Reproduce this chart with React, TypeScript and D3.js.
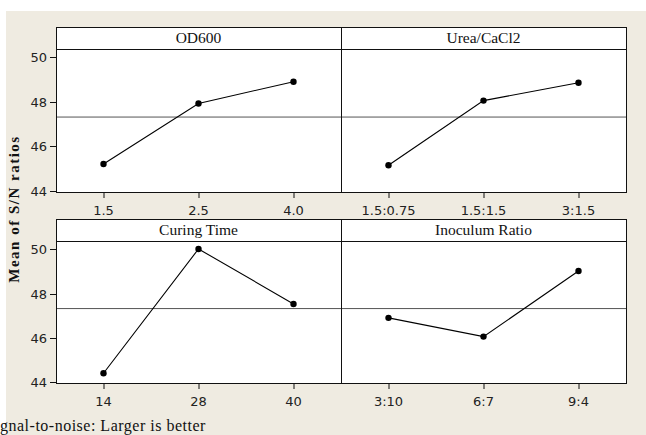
import React from "react";
import * as d3 from "d3";

// Main effects plot for S/N ratios (larger is better)
const factors = ["OD600", "Urea/CaCl2", "Curing Time", "Inoculum Ratio"];
const levelsOD600 = ["1.5", "2.5", "4.0"];
const levelsUrea = ["1.5:0.75", "1.5:1.5", "3:1.5"];
const levelsCuring = ["14", "28", "40"];
const levelsInoculum = ["3:10", "6:7", "9:4"];
const snOD600 = [45.21, 47.93, 48.91];
const snUrea = [45.15, 48.06, 48.86];
const snCuring = [44.39, 50.02, 47.53];
const snInoculum = [46.9, 46.05, 49.02];
const grandMean = 47.32;
const yTicks = [44, 46, 48, 50];

const W = 646;
const H = 435;

const panels = [
  { name: factors[0], levels: levelsOD600, values: snOD600, col: 0, row: 0 },
  { name: factors[1], levels: levelsUrea, values: snUrea, col: 1, row: 0 },
  { name: factors[2], levels: levelsCuring, values: snCuring, col: 0, row: 1 },
  { name: factors[3], levels: levelsInoculum, values: snInoculum, col: 1, row: 1 },
];

const colX = [56, 341];
const colW = 285;
const rowTop = [27, 219];
const headerH = 22;
const rowBottom = [192, 383];

const tickFont = "'DejaVu Sans', Verdana, sans-serif";
const serif = "'Liberation Serif', 'Times New Roman', serif";

export default function App() {
  return (
    <svg
      width={W}
      height={H}
      style={{ position: "absolute", left: 0, top: 0, background: "#ffffff" }}
    >
      <rect x={6} y={11} width={W - 6} height={H - 11} fill="#efebe1" />
      {panels.map((p) => {
        const x0 = colX[p.col];
        const top = rowTop[p.row];
        const plotTop = top + headerH;
        const bottom = rowBottom[p.row];
        const x = d3.scalePoint<string>().domain(p.levels).range([x0, x0 + colW]).padding(0.5);
        const y = d3.scaleLinear().domain([43.95, 50.38]).range([bottom, plotTop]);
        const line = d3
          .line<number>()
          .x((_, i) => x(p.levels[i]) as number)
          .y((d) => y(d));
        return (
          <g key={p.name}>
            <rect x={x0} y={top} width={colW} height={bottom - top} fill="#ffffff" />
            <line
              x1={x0}
              x2={x0 + colW}
              y1={y(grandMean)}
              y2={y(grandMean)}
              stroke="#555"
              strokeWidth={1}
            />
            <path d={line(p.values) || ""} fill="none" stroke="#000" strokeWidth={1.1} />
            {p.values.map((v, i) => (
              <circle key={i} cx={x(p.levels[i])} cy={y(v)} r={3.2} fill="#000" />
            ))}
            <rect
              x={x0 + 0.5}
              y={top + 0.5}
              width={colW}
              height={headerH}
              fill="#ffffff"
              stroke="#111"
              strokeWidth={1}
            />
            <text
              x={x0 + colW / 2}
              y={top + 16}
              textAnchor="middle"
              fontFamily={serif}
              fontSize={15.5}
              fill="#111"
            >
              {p.name}
            </text>
            <rect
              x={x0 + 0.5}
              y={top + 0.5}
              width={colW}
              height={bottom - top}
              fill="none"
              stroke="#111"
              strokeWidth={1}
            />
            {p.levels.map((l) => (
              <g key={l}>
                <line
                  x1={(x(l) as number) + 0.5}
                  x2={(x(l) as number) + 0.5}
                  y1={bottom + 0.5}
                  y2={bottom + 6}
                  stroke="#111"
                />
                <text
                  x={x(l)}
                  y={bottom + 23}
                  textAnchor="middle"
                  fontFamily={tickFont}
                  fontSize={13}
                  fill="#222"
                >
                  {l}
                </text>
              </g>
            ))}
            {p.col === 0 &&
              yTicks.map((t) => (
                <g key={t}>
                  <line
                    x1={x0 - 6}
                    x2={x0}
                    y1={Math.round(y(t)) + 0.5}
                    y2={Math.round(y(t)) + 0.5}
                    stroke="#111"
                  />
                  <text
                    x={x0 - 9}
                    y={y(t) + 5}
                    textAnchor="end"
                    fontFamily={tickFont}
                    fontSize={13}
                    fill="#222"
                  >
                    {t}
                  </text>
                </g>
              ))}
          </g>
        );
      })}
      <text
        transform="translate(19,209) rotate(-90)"
        textAnchor="middle"
        fontFamily={serif}
        fontWeight="bold"
        fontSize={15}
        letterSpacing={1.5}
        fill="#111"
      >
        Mean of S/N ratios
      </text>
      <text x={0} y={431} fontFamily={serif} fontSize={16} letterSpacing={0.5} fill="#111">
        gnal-to-noise: Larger is better
      </text>
    </svg>
  );
}
